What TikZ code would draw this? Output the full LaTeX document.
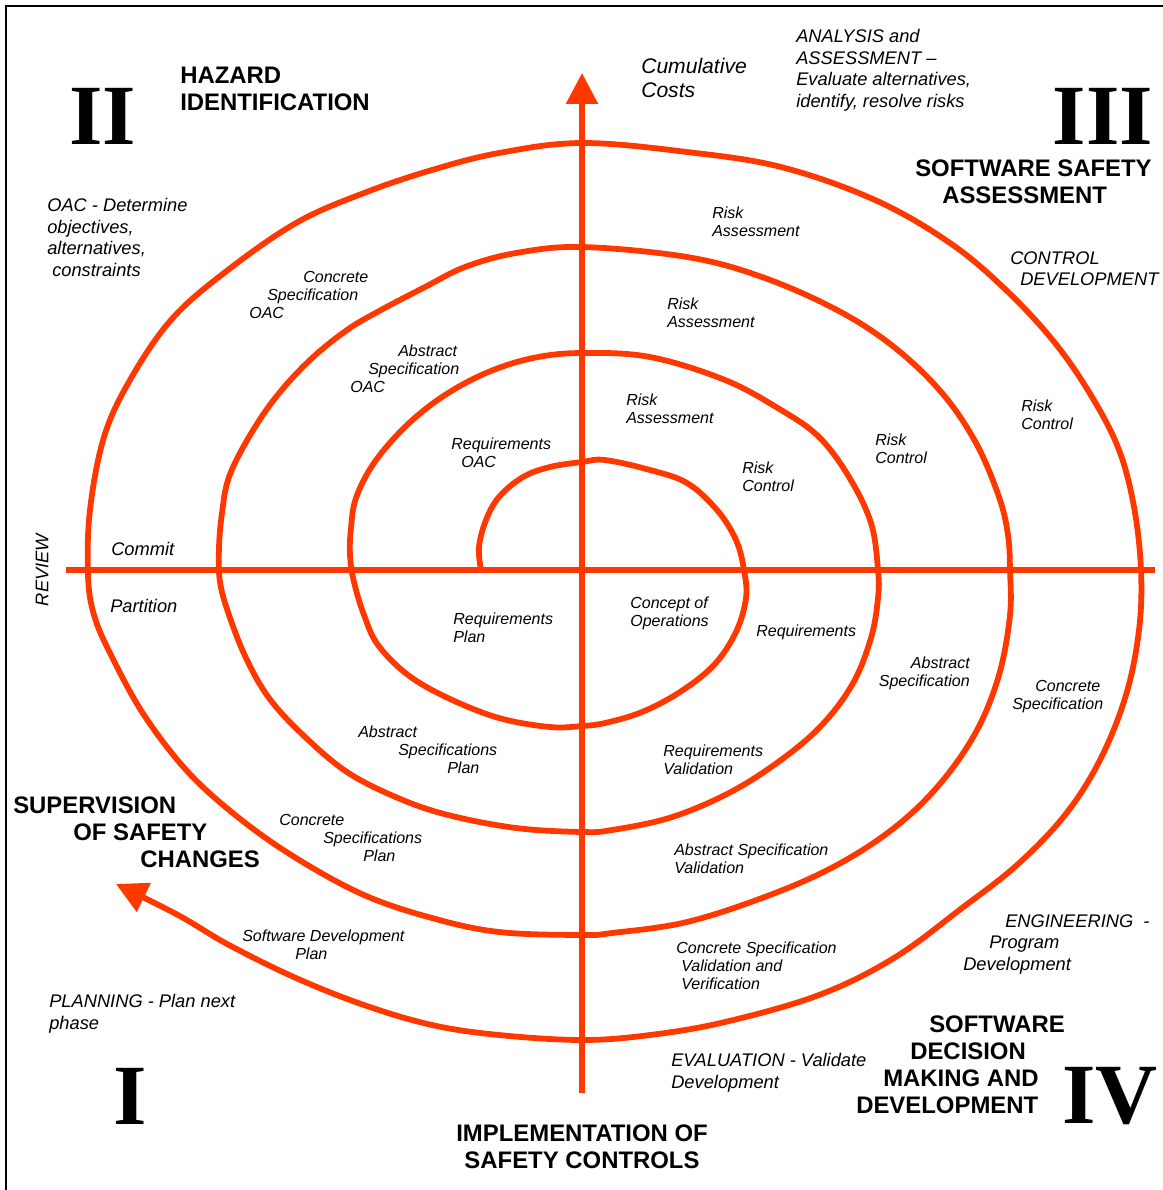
\documentclass[tikz,border=0pt]{standalone}
\usepackage{fontspec}
\setmainfont{Liberation Sans}
\newfontfamily\numeralfont{Liberation Serif}
\usetikzlibrary{arrows.meta}
\definecolor{spiralred}{RGB}{255,56,0}
\newlength\pxunit
\setlength\pxunit{0.025cm}

\begin{document}
\begin{tikzpicture}[x=0.025cm,y=-0.025cm,
        spiral/.style={draw=spiralred,line width=4.1pt,line join=round},
        redtip/.style={-{Triangle[length=22pt,width=22pt]}},
        small/.style={font=\fontsize{11.4}{12.8}\selectfont\itshape,align=left,anchor=north west,inner sep=0pt},
        phase/.style={font=\fontsize{13}{15.3}\selectfont\itshape,align=left,anchor=north west,inner sep=0pt},
        heading/.style={font=\fontsize{17}{19.2}\selectfont\bfseries,align=left,anchor=north west,inner sep=0pt},
        numeral/.style={font=\fontsize{61}{61}\selectfont\numeralfont\bfseries,inner sep=0pt}]
        \useasboundingbox (0,0) rectangle (1163,1190);
        \draw[line width=1.4pt] (6,1190) -- (6,6) -- (1163,6);
        \coordinate (vbot)   at (582,1093);
        \coordinate (vtop)   at (582,73);
        \coordinate (hleft)  at (66,570);
        \coordinate (hright) at (1155,570);
        \draw[spiral,redtip] (vbot) -- (vtop);
        \draw[spiral] (hleft) -- (hright);
        % the spiral, from the centre outwards
        \draw[spiral,redtip] plot[smooth,tension=0.6] coordinates {
          (481,570) (479,547) (486,520) (499,497) (523,477) (550,467) (582,462) (605,460)
          (650,470) (687,483) (717,510) (736,540) (744,570) (746,598) (736,632) (714,665)
          (680,692) (642,712) (605,723) (582,726) (550,727) (499,718) (448,698) (408,675)
          (378,645) (364,615) (354,582) (350,555) (351,528) (356,498) (374,463) (405,427)
          (442,397) (486,373) (533,358) (582,353) (650,357) (725,380) (781,410) (819,437)
          (849,477) (871,523) (878,570) (878,598) (871,638) (852,685) (819,728) (774,765)
          (725,795) (669,818) (612,830) (582,832) (516,828) (448,815) (398,798) (347,772)
          (303,735) (269,698) (246,658) (229,615) (220,582) (219,548) (222,513) (229,477)
          (249,437) (276,397) (310,360) (347,330) (381,310) (425,287) (465,267) (516,253)
          (582,247) (687,257) (762,277) (837,310) (894,347) (942,393) (976,443) (999,497)
          (1008,535) (1010,570) (1010,615) (999,675) (976,732) (939,785) (894,828) (837,865)
          (770,895) (687,922) (612,933) (582,935) (499,932) (432,918) (364,895) (296,858)
          (239,818) (188,772) (144,715) (111,655) (94,615) (88,575) (90,510)
          (104,437) (130,380) (171,320) (224,273) (296,223) (364,193)
          (432,170) (499,153) (582,143) (687,152) (781,167) (875,200) (950,243) (1006,290)
          (1055,343) (1092,397) (1119,450) (1134,507) (1141,570) (1139,630) (1126,695) (1100,760)
          (1065,815) (1017,865) (962,908) (894,958) (819,995) (725,1022) (650,1035) (582,1040)
          (499,1035) (432,1025) (364,1005) (296,978) (229,945) (178,915) (116,884)};
        % quadrant numbers and titles
        \node[numeral] (n2) at (103,116)  {II};
        \node[numeral] (n3) at (1103,116) {III};
        \node[numeral] (n1) at (130,1096) {I};
        \node[numeral] (n4) at (1110,1096) {IV};
        \node[heading] (hazard) at (180,67) {HAZARD\\IDENTIFICATION};
        \node[heading] (assess) at (915,160) {SOFTWARE SAFETY\\\hspace*{27\pxunit}ASSESSMENT};
        \node[heading] (superv) at (13,797) {SUPERVISION\\\hspace*{60\pxunit}OF SAFETY\\\hspace*{127\pxunit}CHANGES};
        \node[heading] (decide) at (856,1016) {\hspace*{73\pxunit}SOFTWARE\\\hspace*{54\pxunit}DECISION\\\hspace*{27\pxunit}MAKING AND\\DEVELOPMENT};
        \node[heading,align=center,anchor=north] (impl) at (582,1125) {IMPLEMENTATION OF\\SAFETY CONTROLS};
        % phases
        \node[phase,font=\fontsize{15}{17}\selectfont\itshape] (cost) at (641,58) {Cumulative\\Costs};
        \node[phase] (analysis) at (796,29) {ANALYSIS and\\ASSESSMENT –\\Evaluate alternatives,\\identify, resolve risks};
        \node[phase] (oac)      at (47,198) {OAC - Determine\\objectives,\\alternatives,\\\hspace*{5\pxunit}constraints};
        \node[phase] (control)  at (1010,251) {CONTROL\\\hspace*{10\pxunit}DEVELOPMENT};
        \node[phase] (engin)    at (963,914) {\hspace*{42\pxunit}ENGINEERING\ \ -\\\hspace*{26\pxunit}Program\\Development};
        \node[phase] (plan)     at (49,994) {PLANNING - Plan next\\phase};
        \node[phase] (eval)     at (671,1053) {EVALUATION - Validate\\Development};
        \node[phase] (commit)   at (111,542) {Commit};
        \node[phase] (part)     at (110,599) {Partition};
        \node[phase,anchor=center,rotate=90] (review) at (42,570) {REVIEW};
        % steps on the rings
        \node[small] (cso)  at (249,271) {\hspace*{54\pxunit}Concrete\\\hspace*{18\pxunit}Specification\\OAC};
        \node[small] (aso)  at (350,345) {\hspace*{48\pxunit}Abstract\\\hspace*{18\pxunit}Specification\\OAC};
        \node[small] (ro)   at (451,438) {Requirements\\\hspace*{10\pxunit}OAC};
        \node[small] (ra4)  at (712,207) {Risk\\Assessment};
        \node[small] (ra3)  at (667,298) {Risk\\Assessment};
        \node[small] (ra2)  at (626,394) {Risk\\Assessment};
        \node[small] (rc1)  at (742,462) {Risk\\Control};
        \node[small] (rc2)  at (875,434) {Risk\\Control};
        \node[small] (rc3)  at (1021,400) {Risk\\Control};
        \node[small] (rp)   at (453,613) {Requirements\\Plan};
        \node[small] (cop)  at (630,597) {Concept of\\Operations};
        \node[small] (req)  at (756,625) {Requirements};
        \node[small,align=right,anchor=north east] (as) at (970,657) {Abstract\\Specification};
        \node[small] (cs)   at (1012,680) {\hspace*{23\pxunit}Concrete\\Specification};
        \node[small] (asp)  at (358,726) {Abstract\\\hspace*{40\pxunit}Specifications\\\hspace*{89\pxunit}Plan};
        \node[small] (rv)   at (663,745) {Requirements\\Validation};
        \node[small] (csp)  at (279,814) {Concrete\\\hspace*{44\pxunit}Specifications\\\hspace*{84\pxunit}Plan};
        \node[small] (asv)  at (674,844) {Abstract Specification\\Validation};
        \node[small] (sdp)  at (242,930) {Software Development\\\hspace*{53\pxunit}Plan};
        \node[small] (csv)  at (676,942) {Concrete Specification\\\hspace*{5\pxunit}Validation and\\\hspace*{5\pxunit}Verification};
\end{tikzpicture}
\end{document}
